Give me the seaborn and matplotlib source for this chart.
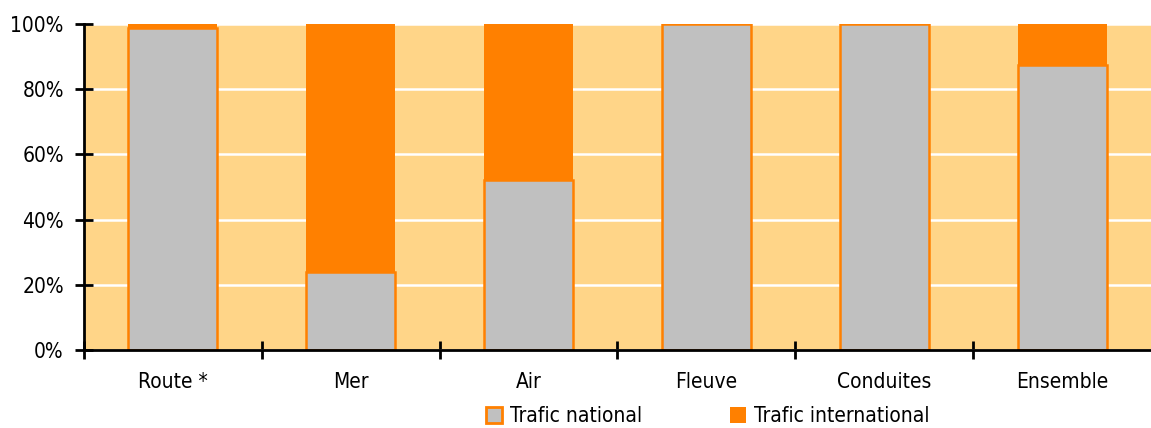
import matplotlib
matplotlib.use("Agg")
import matplotlib.pyplot as plt
import matplotlib.patches as mpatches
from matplotlib.ticker import FixedLocator, NullFormatter
from matplotlib import font_manager
import seaborn as sns
import pandas as pd

categories = ["Route *", "Mer", "Air", "Fleuve", "Conduites", "Ensemble"]
national = [98.8, 23.9, 52.1, 100.0, 100.0, 87.4]
international = [1.2, 76.1, 47.9, 0.0, 0.0, 12.6]
yticks = [0, 20, 40, 60, 80, 100]
ytick_labels = ["0%", "20%", "40%", "60%", "80%", "100%"]
legend_labels = ["Trafic national", "Trafic international"]

BG = "#FFD588"
ORANGE = "#FF8000"
GREY = "#C0C0C0"

sns.set_theme(style="white")
names = sorted({f.name for f in font_manager.fontManager.ttflist})
family = "DejaVu Sans"
for cand in ["Liberation Sans Narrow", "DejaVu Sans Condensed"]:
    if cand in names:
        family = cand
        break
plt.rcParams["font.family"] = [family, "DejaVu Sans"]
plt.rcParams["font.stretch"] = "condensed"
plt.rcParams["text.color"] = "black"
plt.rcParams["xtick.color"] = "black"
plt.rcParams["ytick.color"] = "black"

df = pd.DataFrame({
    "cat": categories,
    "national": national,
    "total": [n + i for n, i in zip(national, international)],
})

fig = plt.figure(figsize=(11.51, 4.28), dpi=100)
ax = fig.add_axes([84 / 1151, 1 - 350 / 428, 1 - 84 / 1151, (350 - 24) / 428])
ax.set_facecolor(BG)

sns.barplot(data=df, x="cat", y="total", color=ORANGE, saturation=1,
            width=0.5, edgecolor=ORANGE, linewidth=0, ax=ax, zorder=3)
sns.barplot(data=df, x="cat", y="national", color=GREY, saturation=1,
            width=0.5, edgecolor=ORANGE, linewidth=1.8, ax=ax, zorder=4)

ax.set_xlim(-0.5, len(categories) - 0.5)
ax.set_ylim(0, 100)
ax.set_xlabel("")
ax.set_ylabel("")

ax.set_yticks(yticks)
ax.set_yticklabels(ytick_labels, fontsize=15)
ax.yaxis.grid(True, color="white", linewidth=1.8, zorder=1)
ax.set_axisbelow(True)

ax.set_xticks(range(len(categories)))
ax.set_xticklabels(categories, fontsize=15)
ax.tick_params(axis="x", which="major", bottom=True, length=0, pad=16, labelcolor="black")
ax.xaxis.set_minor_locator(FixedLocator([i - 0.5 for i in range(len(categories))]))
ax.xaxis.set_minor_formatter(NullFormatter())
ax.tick_params(axis="x", which="minor", bottom=True, direction="inout", length=13, width=2, color="black")
ax.tick_params(axis="y", which="major", left=True, direction="inout", length=13, width=2,
               color="black", pad=8, labelcolor="black")

for s in ["top", "right"]:
    ax.spines[s].set_visible(False)
for s in ["left", "bottom"]:
    ax.spines[s].set_color("black")
    ax.spines[s].set_linewidth(2)
    ax.spines[s].set_zorder(6)

handles = [
    mpatches.Patch(facecolor=GREY, edgecolor=ORANGE, linewidth=2, label=legend_labels[0]),
    mpatches.Patch(facecolor=ORANGE, edgecolor=ORANGE, linewidth=0, label=legend_labels[1]),
]
fig.legend(handles=handles, loc="center", bbox_to_anchor=(708 / 1151, 1 - 416 / 428),
           ncol=2, frameon=False, fontsize=15, handlelength=0.77, handleheight=0.8,
           handletextpad=0.4, columnspacing=4.2, borderaxespad=0)

fig.savefig("out.png", dpi=100)
